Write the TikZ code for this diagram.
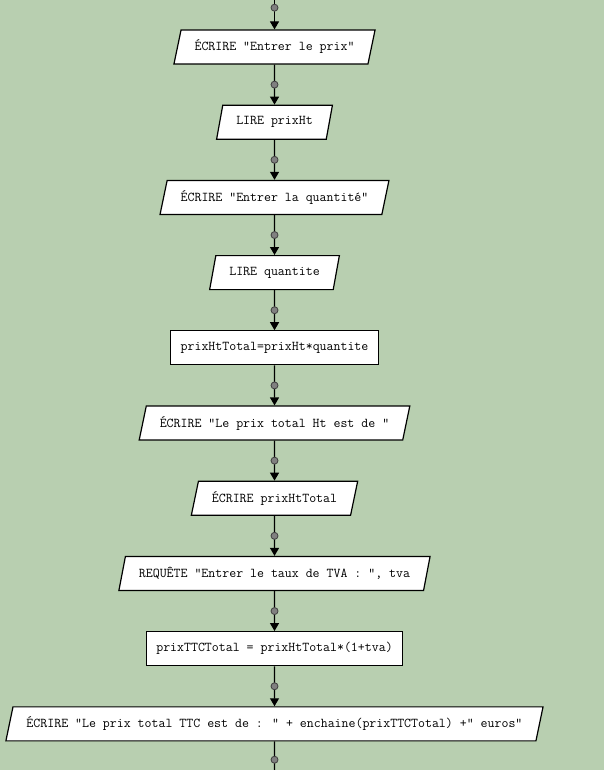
\documentclass[tikz,border=0pt]{standalone}
\usepackage{fontspec}
\usetikzlibrary{positioning,shapes.geometric,arrows.meta}
\definecolor{fond}{RGB}{184,207,176}
\definecolor{gris}{RGB}{128,128,128}

\begin{document}
\begin{tikzpicture}[x=1pt,y=-1pt,node distance=40pt,
  every node/.style={font=\ttfamily\fontsize{13.5}{15}\selectfont,align=center},
  instr/.style={draw,fill=white,line width=1.2pt,minimum height=34pt,inner xsep=10pt},
  entree/.style={instr,shape=trapezium,trapezium stretches=true,trapezium left angle=71,trapezium right angle=109,inner xsep=13.5pt},
  fleche/.style={line width=1.2pt,-{Triangle[width=9pt,length=8pt]}},
  trait/.style={line width=1.2pt},
  pastille/.style={circle,draw=black!75,fill=gris,inner sep=0pt,minimum size=7pt,line width=0.8pt}]
  \path[use as bounding box,fill=fond] (0,0) rectangle (604,770);
  % les instructions
  \node[entree] (ecrirePrix) at (274.5,47) {ÉCRIRE "Entrer le prix"};
  \node[entree,below=of ecrirePrix] (lirePrix) {LIRE prixHt};
  \node[entree,below=of lirePrix] (ecrireQte) {ÉCRIRE "Entrer la quantité"};
  \node[entree,below=of ecrireQte] (lireQte) {LIRE quantite};
  \node[instr,below=of lireQte] (calculHt) {prixHtTotal=prixHt*quantite};
  \node[entree,below=of calculHt] (ecrireHt) {ÉCRIRE "Le prix total Ht est de "};
  \node[entree,below=of ecrireHt] (afficheHt) {ÉCRIRE prixHtTotal};
  \node[entree,below=of afficheHt] (requeteTva) {REQUÊTE "Entrer le taux de TVA : ", tva};
  \node[instr,below=of requeteTva] (calculTTC) {prixTTCTotal = prixHtTotal*(1+tva)};
  \node[entree,below=of calculTTC] (afficheTTC) {ÉCRIRE "Le prix total TTC est de : " + enchaine(prixTTCTotal) +" euros"};
  \coordinate (haut) at (274.5,-14);
  \coordinate (bas) at (274.5,778);
  % les liens
  \draw[fleche] (haut) -- node[pastille]{} (ecrirePrix);
  \draw[fleche] (ecrirePrix) -- node[pastille]{} (lirePrix);
  \draw[fleche] (lirePrix) -- node[pastille]{} (ecrireQte);
  \draw[fleche] (ecrireQte) -- node[pastille]{} (lireQte);
  \draw[fleche] (lireQte) -- node[pastille]{} (calculHt);
  \draw[fleche] (calculHt) -- node[pastille]{} (ecrireHt);
  \draw[fleche] (ecrireHt) -- node[pastille]{} (afficheHt);
  \draw[fleche] (afficheHt) -- node[pastille]{} (requeteTva);
  \draw[fleche] (requeteTva) -- node[pastille]{} (calculTTC);
  \draw[fleche] (calculTTC) -- node[pastille]{} (afficheTTC);
  \draw[trait] (afficheTTC) -- node[pastille]{} (bas);
\end{tikzpicture}
\end{document}
